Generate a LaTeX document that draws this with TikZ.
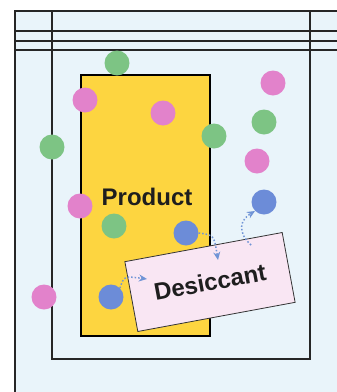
\documentclass[tikz,border=0pt]{standalone}
\usepackage{fontspec}
\setmainfont{Liberation Sans}
\usepackage{tikz}
\usetikzlibrary{arrows.meta, positioning, calc}
\definecolor{wallbg}{HTML}{E9F4FA}
\definecolor{productfill}{HTML}{FDD540}
\definecolor{desiccantfill}{HTML}{F9E6F3}
\definecolor{dotpink}{HTML}{E282CB}
\definecolor{dotgreen}{HTML}{7DC484}
\definecolor{dotblue}{HTML}{6C8CD8}
\definecolor{flowblue}{HTML}{7094D6}
\definecolor{ink}{HTML}{1E1E1E}

\begin{document}
\begin{tikzpicture}[
    x=1pt, y=-1pt,
    every node/.style={font=\bfseries\fontsize{24}{26}\selectfont, text=ink},
    wall/.style={line width=1.3pt, color=black!85},
    outerwall/.style={line width=2.8pt, color=black!85},
    product/.style={rectangle, draw=black, fill=productfill, line width=1.8pt,
                    minimum width=129pt, minimum height=261pt, inner sep=0pt},
    desiccant/.style={rectangle, draw=black!80, fill=desiccantfill, line width=0.8pt,
                      minimum width=160pt, minimum height=71pt, rotate=10.5},
    molecule/.style={circle, minimum size=25pt, inner sep=0pt},
    flow/.style={-{Stealth[length=8pt, width=7pt]}, line width=1.5pt,
                 dash pattern=on 1.5pt off 2pt, color=flowblue}
]
\useasboundingbox (0,0) rectangle (337,392);

% package walls
\fill[wallbg] (15,11) rectangle (337,392);
\draw[outerwall] (15,392) -- (15,11) -- (337,11);
\draw[wall] (15,31) -- (337,31);
\draw[wall] (15,41) -- (337,41);
\draw[wall] (15,50) -- (337,50);
\draw[wall] (52,11) -- (52,359) -- (310,359) -- (310,11);

% product and desiccant
\node[product] (product) at (145.5,205.5) {};
\node (productlabel) at (147,197) {Product};
\node[desiccant] (desiccant) at (210,282) {Desiccant};

% moisture molecules
\foreach \pos [count=\i] in {(85,100), (163,113), (273,83), (257,161),
                            (80,206), (44,297)}
    \node[molecule, fill=dotpink] (p\i) at \pos {};
\foreach \pos [count=\i] in {(117,63), (264,122), (214,136), (52,147),
                            (114,226)}
    \node[molecule, fill=dotgreen] (g\i) at \pos {};
\node[molecule, fill=dotblue] (b1) at (264,202) {};
\node[molecule, fill=dotblue] (b2) at (186,233) {};
\node[molecule, fill=dotblue] (b3) at (111,297) {};

% uptake and release paths
\coordinate (in1) at (218,260);
\coordinate (in2) at (147,279);
\coordinate (out1) at (251,245);
\draw[flow] (b2.east) .. controls (214,235) .. (in1);
\draw[flow] (b3.north east) .. controls (124,276) .. (in2);
\draw[flow] (out1) .. controls (237,232) and (240,220) .. (b1.south west);

\end{tikzpicture}
\end{document}
